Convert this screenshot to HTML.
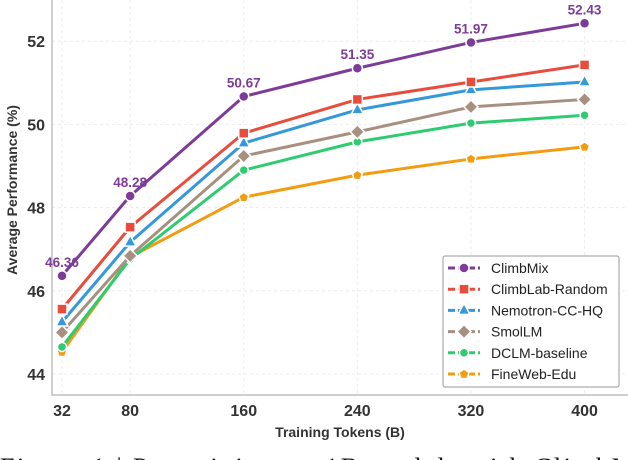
<!DOCTYPE html>
<html><head><meta charset="utf-8"><style>
html,body{margin:0;padding:0;background:#fff;overflow:hidden;width:628px;height:460px;}
svg{display:block;font-family:"Liberation Sans",sans-serif;overflow:hidden;}
</style></head><body>
<svg id="chart" width="628" height="460"></svg>
<script>
const categories=[32,80,160,240,320,400];
const seriesNames=["ClimbMix","ClimbLab-Random","Nemotron-CC-HQ","SmolLM","DCLM-baseline","FineWeb-Edu"];
const climbMix=[46.36,48.28,50.67,51.35,51.97,52.43];
const climbLabRandom=[45.56,47.53,49.79,50.6,51.02,51.43];
const nemotron=[45.25,47.17,49.55,50.35,50.83,51.02];
const smolLM=[45.0,46.84,49.24,49.82,50.42,50.6];
const dclm=[44.65,46.76,48.9,49.58,50.03,50.22];
const fineWeb=[44.53,46.81,48.25,48.78,49.17,49.46];
const yTicks=[44,46,48,50,52];
const xTickLabels=["32","80","160","240","320","400"];

const NS="http://www.w3.org/2000/svg";
const svg=document.getElementById('chart');
function X(v){return 62+(v-32)*1.42;}
function Y(v){return 374-(v-44)*41.6;}
function mk(tag,attrs,parent){const e=document.createElementNS(NS,tag);for(const k in attrs)e.setAttribute(k,attrs[k]);(parent||svg).appendChild(e);return e;}

yTicks.forEach(t=>{
  const g=mk('line',{x1:52,x2:628,y1:Y(t),y2:Y(t),stroke:'#ececec','stroke-dasharray':'3,3'});
  
  
  const tx=mk('text',{x:45,y:Y(t)+6,'text-anchor':'end','font-size':16,'font-weight':'bold',fill:'#333'});
  tx.textContent=String(t);
  
  
});
categories.forEach((c,i)=>{
  const g=mk('line',{x1:X(c),x2:X(c),y1:0,y2:395,stroke:'#ececec','stroke-dasharray':'3,3'});
  
  
  const tx=mk('text',{x:X(c),y:416,'text-anchor':'middle','font-size':16,'font-weight':'bold',fill:'#333'});
  tx.textContent=xTickLabels[i];
  
  
});
const ax1=mk('line',{x1:52,x2:52,y1:0,y2:396,stroke:'#cfcfcf','stroke-width':2});


const ax2=mk('line',{x1:51,x2:628,y1:395,y2:395,stroke:'#cfcfcf','stroke-width':2});



const xt=mk('text',{x:340,y:437,'text-anchor':'middle','font-size':14,'font-weight':'bold',fill:'#333'});
xt.textContent='Training Tokens (B)';


const yt=mk('text',{x:0,y:0,'text-anchor':'middle','font-size':14,'font-weight':'bold',fill:'#333',transform:'translate(17,190) rotate(-90)'});
yt.textContent='Average Performance (%)';



const allData=[climbMix,climbLabRandom,nemotron,smolLM,dclm,fineWeb];
const colors=['#7d3c98','#e74c3c','#3498db','#a89080','#2ecc71','#f39c12'];
const markers=['circle','square','triangle','diamond','smallcircle','pentagon'];
function marker(type,x,y,color,parent){
  let e;
  const st={fill:color,stroke:'#fff','stroke-width':1.5};
  if(type==='circle') e=mk('circle',Object.assign({cx:x,cy:y,r:5},st),parent);
  else if(type==='smallcircle') e=mk('circle',Object.assign({cx:x,cy:y,r:4.5},st),parent);
  else if(type==='square') e=mk('rect',Object.assign({x:x-5,y:y-5,width:10,height:10},st),parent);
  else if(type==='triangle') e=mk('polygon',Object.assign({points:`${x},${y-7} ${x+6},${y+4} ${x-6},${y+4}`},st),parent);
  else if(type==='diamond') e=mk('polygon',Object.assign({points:`${x},${y-7} ${x+7},${y} ${x},${y+7} ${x-7},${y}`},st),parent);
  else e=mk('polygon',Object.assign({points:`${x},${y-5} ${x+5},${y-1.5} ${x+3},${y+4.5} ${x-3},${y+4.5} ${x-5},${y-1.5}`},st),parent);
  return e;
}
for(let s=allData.length-1;s>=0;s--){
  const d=allData[s];
  const g=mk('g',{});
  
  
  const pts=d.map((v,i)=>X(categories[i])+','+Y(v)).join(' ');
  const pl=mk('polyline',{points:pts,fill:'none',stroke:colors[s],'stroke-width':3,'stroke-linejoin':'round'},g);
  
  
  d.forEach((v,i)=>{
    const m=marker(markers[s],X(categories[i]),Y(v),colors[s],g);
    
    
  });
}
climbMix.forEach((v,i)=>{
  const t=mk('text',{x:X(categories[i]),y:Y(v)-9,'text-anchor':'middle','font-size':13.5,'font-weight':'bold',fill:'#7d3c98'});
  t.textContent=v.toFixed(2);
  
  
});

const lg=mk('g',{});


mk('rect',{x:443,y:256,width:176,height:131,rx:2,fill:'#fff',stroke:'#999','stroke-width':1},lg);
seriesNames.forEach((n,i)=>{
  const y=268+i*21.2;
  const e=mk('g',{},lg);
  
  
  mk('line',{x1:448,x2:480,y1:y,y2:y,stroke:colors[i],'stroke-width':3,'stroke-dasharray':'7,3'},e);
  marker(markers[i],464,y,colors[i],e);
  const t=mk('text',{x:491,y:y+5,'font-size':14,fill:'#222'},e);
  t.textContent=n;
});

const cap=mk('text',{x:0,y:476,'font-family':'"Liberation Serif",serif','font-size':26,fill:'#111',textLength:660,lengthAdjust:'spacing'});
cap.textContent='Figure 1 | Pretraining on 1B models with ClimbMix';


</script>
</body></html>
